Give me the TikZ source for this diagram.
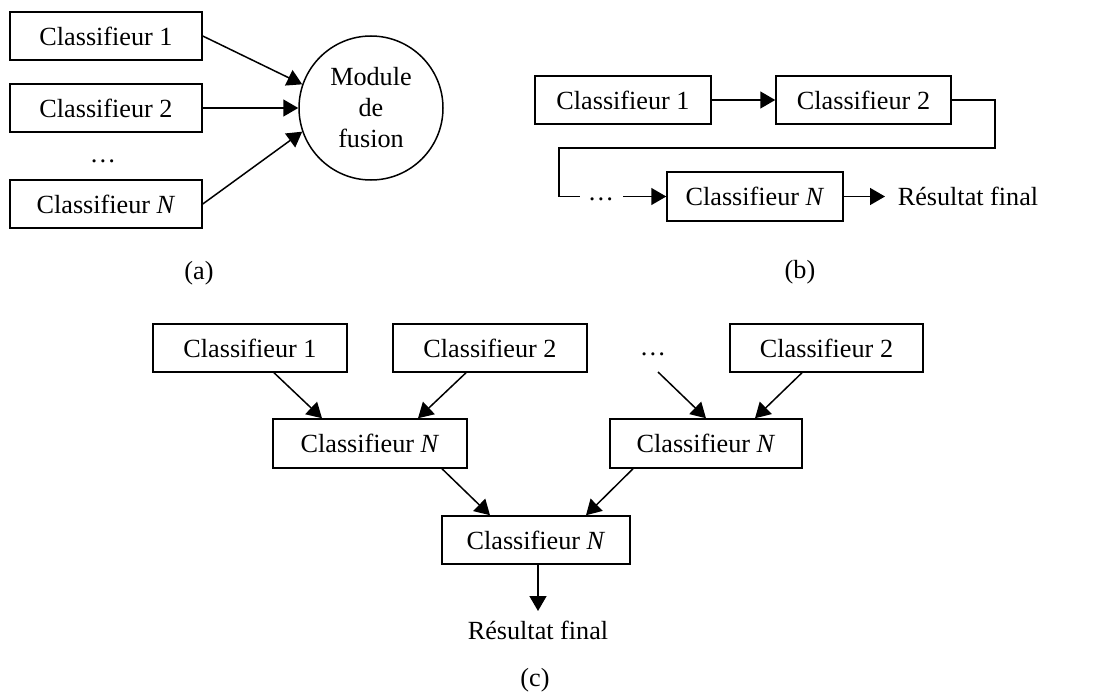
\documentclass[tikz,border=0pt]{standalone}
\usepackage{fontspec}
\setmainfont{Liberation Serif}
\usetikzlibrary{arrows.meta}
\begin{document}
\begin{tikzpicture}[x=1pt,y=-1pt,
  every node/.style={font=\fontsize{26.2}{31}\selectfont},
  box/.style={draw,line width=1.5pt,minimum height=48pt,inner sep=0pt},
  lbl/.style={inner sep=0pt},
  arr/.style={line width=1.5pt,-{Triangle[length=15pt,width=17pt]}},
  ln/.style={line width=1.5pt}]
\useasboundingbox (0,0) rectangle (1095,693);
% (a)
\node[box,minimum width=192pt] (a1) at (106,36) {Classifieur 1};
\node[box,minimum width=192pt] (a2) at (106,108) {Classifieur 2};
\node[lbl,anchor=base] (ad) at (103,162) {\ldots};
\node[box,minimum width=192pt] (aN) at (106,204) {Classifieur \textit{N}};
\node[draw,circle,line width=1.5pt,minimum size=144pt,inner sep=0pt,align=center] (mod) at (371,108) {Module\\de\\fusion};
\draw[arr] (a1.east) -- (mod.161);
\draw[arr] (a2.east) -- (mod.west);
\draw[arr] (aN.east) -- (mod.199);
\node[lbl] (la) at (199,273) {(a)};
% (b)
\node[box,minimum width=176pt] (b1) at (623,100) {Classifieur 1};
\node[box,minimum width=175pt] (b2) at (863.5,100) {Classifieur 2};
\node[lbl,anchor=base] (bd) at (601,200) {\ldots};
\node[box,minimum width=176pt,minimum height=49pt] (bN) at (755,196.5) {Classifieur \textit{N}};
\node[lbl] (rb) at (968,196) {Résultat final};
\coordinate (bdend) at (580,196.5);
\coordinate (bdstart) at (623,196.5);
\coordinate (tipb) at (885,196.5);
\draw[arr] (b1.east) -- (b2.west);
\draw[ln] (b2.east) -- (995,100) -- (995,148) -- (559,148) |- (bdend);
\draw[arr] (bdstart) -- (bN.west);
\draw[arr] (bN.east) -- (tipb);
\node[lbl] (lb) at (800,272) {(b)};
% (c)
\node[box,minimum width=194pt] (c1) at (250,348) {Classifieur 1};
\node[box,minimum width=194pt] (c2) at (490,348) {Classifieur 2};
\node[lbl,anchor=base] (cd) at (653,355) {\ldots};
\node[box,minimum width=193pt] (c4) at (826.5,348) {Classifieur 2};
\node[box,minimum width=194pt,minimum height=49pt] (cN1) at (370,443.5) {Classifieur \textit{N}};
\node[box,minimum width=192pt,minimum height=49pt] (cN2) at (706,443.5) {Classifieur \textit{N}};
\node[box,minimum width=188pt] (cF) at (536,540) {Classifieur \textit{N}};
\node[lbl] (rc) at (538,630) {Résultat final};
\coordinate (cdstart) at (658,372);
\coordinate (tipc) at (538,611);
\draw[arr] ([xshift=24pt]c1.south) -- ([xshift=-48pt]cN1.north);
\draw[arr] ([xshift=-24pt]c2.south) -- ([xshift=48pt]cN1.north);
\draw[arr] (cdstart) -- (cN2.north);
\draw[arr] ([xshift=-24.5pt]c4.south) -- ([xshift=49pt]cN2.north);
\draw[arr] ([xshift=72pt]cN1.south) -- ([xshift=-46pt]cF.north);
\draw[arr] ([xshift=-73pt]cN2.south) -- ([xshift=50pt]cF.north);
\draw[arr] ([xshift=2pt]cF.south) -- (tipc);
\node[lbl] (lc) at (535,680) {(c)};
\end{tikzpicture}
\end{document}
